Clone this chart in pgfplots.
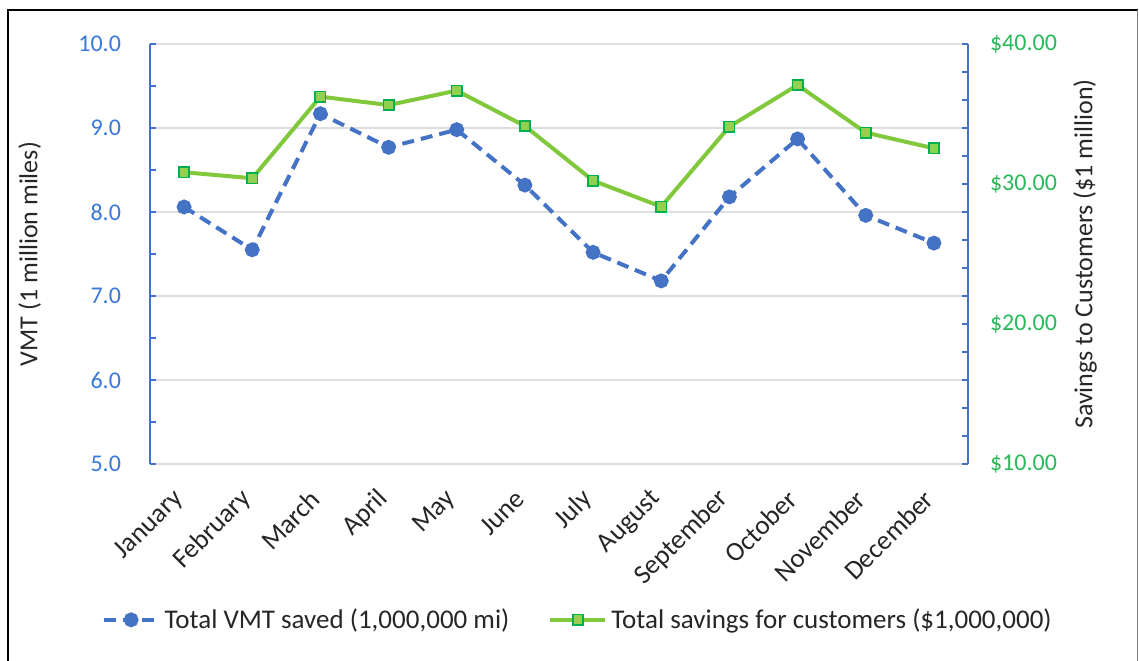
\documentclass[border=0pt]{standalone}
\usepackage{pgfplots}
\pgfplotsset{compat=1.18}
\usepackage{pgfplotstable}
\usepackage{fontspec}
\setmainfont{Carlito}
\definecolor{axblue}{RGB}{68,114,196}
\definecolor{lblblue}{RGB}{58,120,216}
\definecolor{lblgreen}{RGB}{40,185,90}
\definecolor{vmtblue}{RGB}{68,114,196}
\definecolor{lgreen}{RGB}{130,200,60}
\definecolor{mkfill}{RGB}{146,208,80}
\definecolor{mkedge}{RGB}{0,176,80}
\definecolor{gridgray}{RGB}{222,222,222}
\definecolor{txt}{RGB}{38,38,38}

\pgfplotstableread{
x vmt sav
0 8.06 30.84
1 7.55 30.41
2 9.17 36.24
3 8.77 35.64
4 8.98 36.67
5 8.32 34.14
6 7.52 30.24
7 7.18 28.38
8 8.18 34.10
9 8.87 37.07
10 7.96 33.67
11 7.63 32.55
}\datatable

\pgfplotsset{
  vmtstyle/.style={vmtblue, line width=2pt, dash pattern=on 6pt off 3.5pt, mark=*, mark size=2.7pt, mark options={solid, fill=vmtblue}},
  savstyle/.style={lgreen, line width=2pt, mark=square*, mark size=2.6pt, mark options={solid, fill=mkfill, draw=mkedge, line width=0.8pt}},
  common/.style={
    at={(0,0)}, anchor=south west,
    scale only axis, width=409pt, height=210pt,
    xmin=-0.5, xmax=11.5,
    tick align=inside,
    major tick length=3pt, minor tick length=3pt,
    font=\fontsize{12}{14}\selectfont,
  }
}

\begin{document}
\begin{tikzpicture}
\path[use as bounding box] (-75pt,-98pt) rectangle (494.5pt,232pt);
\draw[black, line width=1.3pt] (-71pt,-100pt) -- (-71pt,227pt) -- (493.8pt,227pt);
\draw[gray, line width=0.6pt] (493.8pt,227pt) -- (493.8pt,-100pt);
\begin{axis}[common,
  ymin=5, ymax=10,
  xtick={0,...,11},
  xticklabels={January,February,March,April,May,June,July,August,September,October,November,December},
  ytick={5,6,7,8,9,10},
  yticklabels={5.0,6.0,7.0,8.0,9.0,10.0},
  minor y tick num=1,
  axis y line*=left, axis x line*=bottom,
  x axis line style={draw=none},
  y axis line style={axblue, line width=1pt, -},
  xtick style={draw=none},
  ytick style={axblue, line width=0.8pt},
  minor y tick style={axblue, line width=0.8pt},
  ymajorgrids, grid style={gridgray, line width=0.9pt},
  yticklabel style={lblblue, xshift=-11pt},
  xticklabel style={txt, rotate=45, anchor=east, font=\fontsize{13.5}{15}\selectfont},
  xticklabel shift=13pt,
  every axis y label/.style={at={(axis description cs:-0.147,0.5)}, rotate=90, anchor=center, txt, font=\fontsize{13}{15}\selectfont},
  ylabel={VMT (1 million miles)},
]
\addplot[vmtstyle] table[x=x,y=vmt]{\datatable};
\end{axis}
\begin{axis}[common,
  ymin=10, ymax=40,
  axis x line=none, axis y line*=right,
  y axis line style={axblue, line width=1pt, -},
  ytick={10,20,30,40},
  yticklabels={\$10.00,\$20.00,\$30.00,\$40.00},
  minor y tick num=4,
  ytick style={axblue, line width=0.8pt},
  minor y tick style={axblue, line width=0.8pt},
  yticklabel style={lblgreen, xshift=7.5pt},
  every axis y label/.style={at={(axis description cs:1.143,0.5)}, rotate=90, anchor=center, txt, font=\fontsize{13}{15}\selectfont},
  ylabel={Savings to Customers (\$1 million)},
  legend style={at={(axis description cs:0.524,-0.371)}, anchor=center, draw=none, fill=none,
    legend columns=2, font=\fontsize{13.5}{15}\selectfont, text=txt,
    /tikz/every even column/.append style={column sep=17.5pt},
    /tikz/every odd column/.append style={column sep=0pt}},
  legend cell align=left,
  legend image code/.code={\draw[#1,mark repeat=2,mark phase=2] plot coordinates {(0pt,0pt) (13.75pt,0pt) (27.5pt,0pt)};},
]
\addlegendimage{vmtstyle}
\addlegendentry{Total VMT saved (1,000,000 mi)}
\addplot[savstyle] table[x=x,y=sav]{\datatable};
\addlegendentry{Total savings for customers (\$1,000,000)}
\end{axis}
\end{tikzpicture}
\end{document}
